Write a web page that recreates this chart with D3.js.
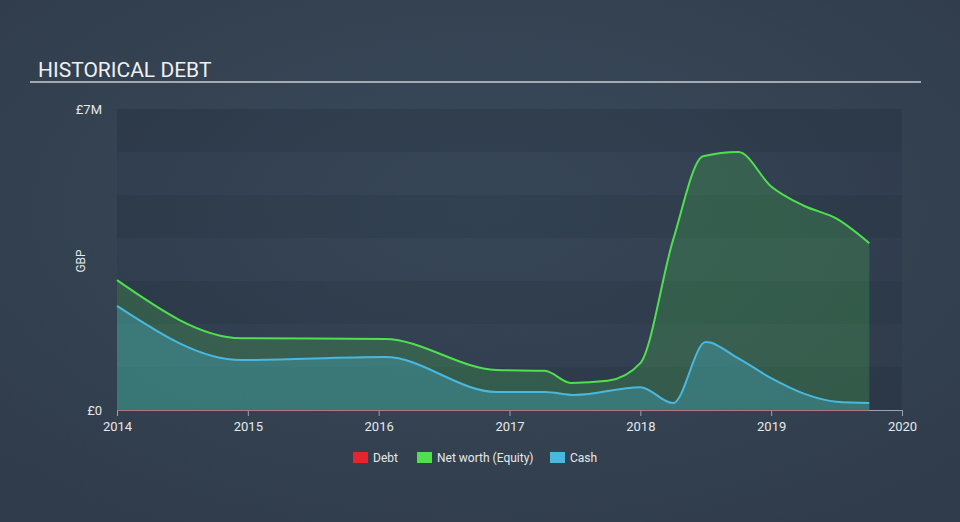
<!DOCTYPE html>
<html><head><meta charset="utf-8">
<script src="https://cdn.jsdelivr.net/npm/d3@7"></script>
<style>
html,body{margin:0;padding:0;background:#344152;}
svg{display:block;font-family:Roboto,"Open Sans",sans-serif;}
</style></head>
<body>
<svg id="c" width="960" height="522"></svg>
<script>
const netWorthYears = [2014.0, 2014.95, 2016.05, 2016.9, 2017.27, 2017.47, 2017.75, 2018.0, 2018.25, 2018.48, 2018.75, 2019.0, 2019.25, 2019.5, 2019.75];
const netWorthValues = [3.02, 1.67, 1.65, 0.93, 0.91, 0.63, 0.68, 1.09, 3.95, 5.9, 6.0, 5.2, 4.75, 4.45, 3.88];
const cashYears = [2014.0, 2014.95, 2016.05, 2016.9, 2017.27, 2017.5, 2018.0, 2018.25, 2018.5, 2018.75, 2019.0, 2019.25, 2019.5, 2019.75];
const cashValues = [2.42, 1.16, 1.23, 0.42, 0.42, 0.35, 0.53, 0.16, 1.58, 1.2, 0.74, 0.38, 0.19, 0.16];
const debtYears = [2014.0, 2019.75];
const debtValues = [0, 0];
const xTicks = [2014, 2015, 2016, 2017, 2018, 2019, 2020];
const yTicks = [0, 7];
const yTickLabels = ["£0", "£7M"];
const legendLabels = ["Debt", "Net worth (Equity)", "Cash"];
const legendColors = ["#e5242b", "#4fe04f", "#4ab8de"];

const svg = d3.select("#c");
const defs = svg.append("defs");
const rg = defs.append("radialGradient").attr("id","bg").attr("cx","50%").attr("cy","40%").attr("r","70%");
rg.append("stop").attr("offset","0%").attr("stop-color","#3a4a5b");
rg.append("stop").attr("offset","100%").attr("stop-color","#303c4b");
svg.append("rect").attr("width",960).attr("height",522).attr("fill","url(#bg)");

const x = d3.scaleLinear().domain([2014, 2020]).range([117, 902]);
const y = d3.scaleLinear().domain([0, 7]).range([410, 109]);

// bands
const g = svg.append("g");
d3.range(0,7).forEach(i=>{
  g.append("rect").attr("x",117).attr("width",785)
   .attr("y",y(i+1)).attr("height",y(i)-y(i+1))
   .attr("fill", i%2===0 ? "rgba(20,30,45,0.2)" : "rgba(20,30,45,0.08)");
});

// title
svg.append("text").attr("x",38).attr("y",77).attr("fill","#eef0f2").attr("font-size",21).text("HISTORICAL DEBT");
svg.append("line").attr("x1",30).attr("x2",921).attr("y1",82).attr("y2",82).attr("stroke","#c9ccd0").attr("stroke-width",1.5);

const nw = netWorthYears.map((d,i)=>[d, netWorthValues[i]]);
const cash = cashYears.map((d,i)=>[d, cashValues[i]]);
const debt = debtYears.map((d,i)=>[d, debtValues[i]]);
const curve = d3.curveMonotoneX;
const area = d3.area().x(d=>x(d[0])).y0(y(0)).y1(d=>y(d[1])).curve(curve);
const line = d3.line().x(d=>x(d[0])).y(d=>y(d[1])).curve(curve);

svg.append("path").attr("d",area(nw)).attr("fill","#4fe04f").attr("fill-opacity",0.2);
svg.append("path").attr("d",area(cash)).attr("fill","#4ab8de").attr("fill-opacity",0.3);
svg.append("path").attr("d",line(nw)).attr("fill","none").attr("stroke","#4fe04f").attr("stroke-width",2);
svg.append("path").attr("d",line(cash)).attr("fill","none").attr("stroke","#4ab8de").attr("stroke-width",2);

// x axis
const xa = svg.append("g").attr("transform","translate(0,410)")
  .call(d3.axisBottom(x).tickValues(xTicks).tickFormat(d3.format("d")).tickSizeOuter(0).tickSize(6));
xa.select(".domain").attr("stroke","#9aa3ad");
xa.selectAll(".tick line").attr("stroke","#9aa3ad");
xa.selectAll(".tick text").attr("fill","#e6e8ea").attr("font-size",13).attr("dy","0.95em").attr("font-family","Roboto,sans-serif");

svg.append("path").attr("d",line(debt)).attr("fill","none").attr("stroke","#e5242b").attr("stroke-opacity",0.45).attr("stroke-width",1.5);

// y labels
svg.selectAll(".yl").data(yTicks).enter().append("text")
  .attr("x",102).attr("y",d=>y(d)).attr("dy","0.35em").attr("text-anchor","end")
  .attr("fill","#e6e8ea").attr("font-size",13).text((d,i)=>yTickLabels[i]);
svg.append("text").attr("transform","translate(85,261) rotate(-90)").attr("text-anchor","middle")
  .attr("fill","#e6e8ea").attr("font-size",12).text("GBP");

// legend
const lx = [353, 417, 550];
legendLabels.forEach((l,i)=>{
  svg.append("rect").attr("x",lx[i]).attr("y",452).attr("width",15).attr("height",11).attr("fill",legendColors[i]);
  svg.append("text").attr("x",lx[i]+20).attr("y",457.5).attr("dy","0.35em").attr("fill","#e6e8ea").attr("font-size",12).text(l);
});
</script>
</body></html>
